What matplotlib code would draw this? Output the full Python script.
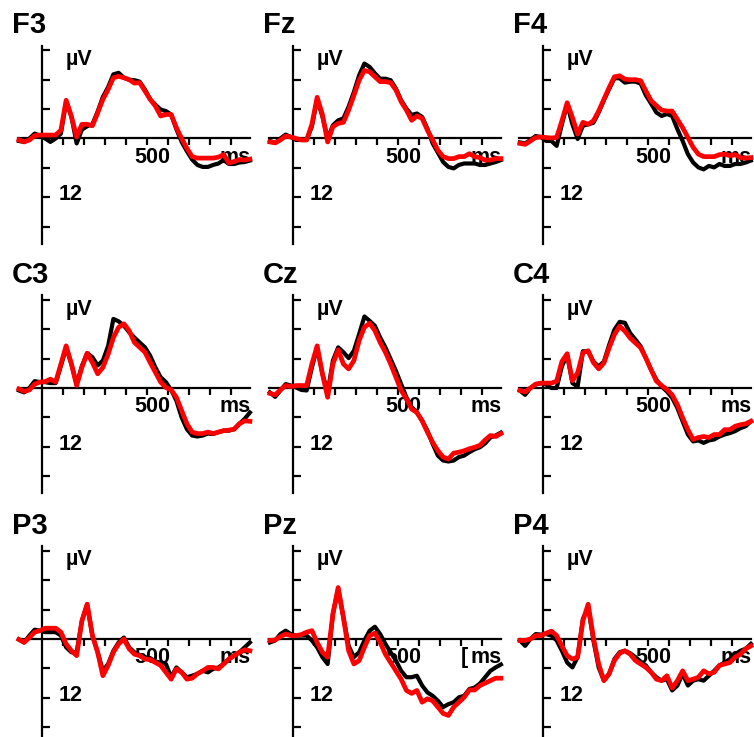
import matplotlib
matplotlib.use("Agg")
import matplotlib.pyplot as plt

plt.rcParams['font.family'] = ['Liberation Sans', 'DejaVu Sans']
plt.rcParams['font.weight'] = 'bold'

# time axis (ms) and grand-average waveforms (uV, negative plotted up)
t_ms = [-110, -85, -60, -35, -10, 15, 40, 65, 90, 115, 140, 165, 190, 215, 240,
        265, 290, 315, 340, 365, 390, 415, 440, 465, 490, 515, 540, 565, 590, 615,
        640, 665, 690, 715, 740, 765, 790, 815, 840, 865, 890, 915, 940, 965, 990]

channels = ['F3', 'Fz', 'F4', 'C3', 'Cz', 'C4', 'P3', 'Pz', 'P4']

f3_black = [0.5, 0.7, 0.0, -1.0, -0.6, 0.0, 0.7, 0.0, -1.0, -7.5, -4.5, 1.0, -1.8, -2.5, -2.9,
            -5.5, -8.5, -10.5, -13.1, -13.4, -12.4, -12.0, -11.9, -11.6, -10.0, -8.0, -6.9, -5.9, -5.6, -4.9,
            -1.9, 0.7, 2.6, 4.3, 5.4, 5.8, 5.8, 5.4, 5.1, 4.4, 5.2, 5.2, 4.9, 4.8, 4.5]
f3_red = [0.3, 0.7, 0.3, -0.6, -0.7, -0.7, -0.7, -0.7, -1.7, -7.8, -4.5, -0.3, -2.9, -2.9, -2.6,
          -5.2, -8.0, -10.0, -12.4, -12.7, -12.4, -12.0, -11.3, -11.4, -9.7, -8.0, -6.6, -4.6, -4.9, -4.9,
          -2.2, 0.0, 2.0, 3.7, 4.0, 4.0, 4.0, 4.0, 3.8, 3.3, 5.0, 4.7, 4.3, 4.4, 4.2]

fz_black = [0.5, 0.9, 0.0, -0.8, -0.3, 0.3, 0.3, 0.3, -2.5, -8.0, -4.5, 0.0, -2.7, -3.7, -4.1,
            -6.5, -9.5, -12.9, -15.3, -14.6, -13.3, -12.2, -12.2, -11.9, -10.2, -7.8, -6.1, -4.8, -5.1, -4.4,
            -2.0, 1.0, 2.9, 4.8, 5.8, 6.1, 5.4, 5.1, 5.1, 5.1, 5.4, 5.4, 5.1, 4.8, 4.4]
fz_red = [0.7, 0.9, 0.3, -0.5, -0.3, 0.0, 0.3, 0.3, -2.9, -8.4, -4.9, 0.7, -2.4, -3.1, -3.3,
          -5.8, -8.8, -11.9, -13.9, -13.6, -12.6, -11.6, -11.6, -11.4, -9.9, -7.5, -5.8, -3.7, -4.6, -4.1,
          -1.7, 0.3, 2.4, 3.7, 4.1, 4.1, 3.7, 3.7, 3.1, 3.7, 3.9, 4.4, 4.4, 4.1, 4.1]

f4_black = [0.8, 1.0, 0.3, -0.5, -0.3, 0.5, 0.5, 1.5, -2.9, -7.0, -2.9, 0.1, -2.6, -2.9, -3.2,
            -5.3, -7.8, -10.1, -12.3, -12.3, -11.4, -11.6, -11.6, -11.2, -8.8, -7.1, -5.3, -4.6, -5.0, -4.6,
            -1.9, 0.5, 3.2, 4.9, 5.9, 6.3, 5.6, 5.9, 5.2, 5.6, 5.6, 5.2, 5.2, 4.9, 4.5]
f4_red = [1.0, 1.2, 0.5, -0.2, -0.3, -0.2, -0.1, -0.2, -3.6, -7.3, -4.3, -0.9, -3.3, -2.9, -3.6,
          -5.6, -8.0, -10.4, -12.6, -12.8, -12.1, -12.0, -12.0, -11.8, -9.7, -7.7, -6.7, -5.8, -5.6, -5.6,
          -3.9, -2.2, -0.2, 1.8, 3.2, 3.7, 3.7, 3.7, 3.3, 3.2, 3.5, 3.3, 3.9, 4.0, 3.9]

c3_black = [0.5, 0.9, 0.0, -1.4, -1.2, -1.2, -1.0, -1.0, -4.5, -8.2, -4.9, -0.8, -4.5, -7.1, -6.3,
            -4.6, -5.6, -8.6, -14.1, -13.6, -12.7, -11.4, -10.3, -9.3, -8.3, -6.6, -4.2, -2.2, -1.2, 0.4,
            2.6, 6.0, 8.4, 9.7, 9.9, 9.7, 9.3, 9.4, 9.0, 8.7, 8.7, 8.4, 7.3, 6.3, 5.0]
c3_red = [0.2, 0.7, 0.4, -0.8, -1.2, -1.3, -1.8, -1.2, -4.9, -8.6, -4.9, -0.5, -4.2, -7.1, -5.2,
          -2.9, -4.2, -6.9, -10.3, -12.4, -13.1, -11.7, -9.3, -8.3, -7.3, -5.2, -3.2, -1.2, -0.1, 0.4,
          1.9, 4.6, 7.3, 9.0, 9.3, 9.3, 9.0, 9.3, 9.0, 8.7, 8.6, 8.4, 7.3, 6.7, 6.8]

cz_black = [0.9, 1.8, 0.5, -0.8, -0.5, -0.1, 0.4, 0.5, -4.2, -8.2, -2.9, 0.9, -5.6, -8.3, -7.3,
            -6.1, -7.6, -11.0, -14.6, -13.7, -12.7, -10.3, -8.3, -5.9, -3.5, -0.8, 1.9, 3.9, 5.0, 6.7,
            8.7, 11.4, 13.8, 14.8, 15.0, 14.8, 14.1, 13.8, 13.1, 12.5, 12.1, 11.3, 10.1, 9.7, 9.1]
cz_red = [1.1, 1.4, 0.4, -0.5, -0.3, -0.5, -0.5, -0.5, -4.9, -8.6, -2.9, 1.9, -4.9, -7.8, -4.9,
          -3.9, -5.6, -9.7, -12.4, -13.2, -11.7, -9.3, -7.3, -4.9, -2.2, 0.5, 2.2, 4.3, 5.0, 6.7,
          9.0, 11.1, 12.8, 14.1, 14.5, 13.3, 13.1, 12.8, 12.4, 12.1, 11.7, 10.6, 9.7, 9.9, 9.3]

c4_black = [0.5, 1.4, 0.0, -0.7, -1.0, -0.7, 0.0, 0.0, -4.4, -6.8, -1.0, -0.3, -7.5, -7.5, -5.4,
            -4.4, -5.4, -8.8, -11.9, -13.5, -13.3, -11.2, -9.9, -8.5, -6.1, -3.7, -1.7, -0.3, 0.7, 2.0,
            4.1, 6.8, 9.5, 10.9, 10.7, 11.2, 10.7, 10.5, 9.9, 9.5, 9.2, 8.8, 8.2, 7.8, 6.8]
c4_red = [0.5, 0.8, 0.0, -0.8, -1.0, -1.0, -1.0, -1.4, -5.4, -7.0, -1.5, -3.1, -7.2, -7.6, -5.2,
          -3.9, -5.1, -8.2, -10.9, -12.6, -11.6, -10.2, -9.2, -8.2, -6.1, -3.7, -1.4, -0.5, 0.3, 1.4,
          3.4, 6.1, 8.5, 10.5, 10.1, 9.9, 10.1, 9.5, 9.5, 8.5, 8.5, 7.8, 7.5, 7.3, 6.8]

p3_black = [0.1, 0.7, -0.7, -1.9, -1.7, -1.4, -1.4, -1.4, -0.7, 1.7, 2.7, 2.7, -3.7, -7.1, -0.7,
            2.7, 6.5, 5.1, 2.4, 0.7, -0.3, 1.7, 2.7, 3.3, 3.7, 3.9, 4.6, 4.8, 5.1, 7.8,
            5.8, 6.8, 7.8, 7.5, 7.1, 6.5, 6.8, 6.1, 5.8, 5.1, 4.1, 3.4, 2.7, 1.7, 0.7]
p3_red = [0.1, 0.7, -0.3, -1.4, -1.7, -2.2, -2.2, -2.2, -1.4, 1.0, 2.4, 3.4, -3.7, -7.1, -0.7,
          2.7, 7.5, 5.4, 2.7, 1.0, 0.0, 2.0, 3.1, 3.4, 4.1, 4.2, 4.8, 5.4, 6.8, 8.2,
          6.1, 6.8, 8.2, 8.0, 7.1, 6.5, 5.8, 5.8, 6.1, 5.1, 4.1, 3.4, 2.7, 2.2, 2.4]

pz_black = [0.7, 0.3, -1.0, -1.7, -1.0, -0.7, -0.7, -0.7, 0.3, 1.7, 3.7, 5.1, -5.1, -10.2, -4.4,
            1.4, 3.7, 2.7, 0.3, -1.7, -2.5, -1.0, 1.0, 2.7, 4.4, 6.5, 7.8, 7.8, 7.5, 9.5,
            10.9, 11.6, 12.6, 13.9, 13.3, 12.9, 11.9, 11.6, 10.2, 9.9, 9.1, 7.8, 6.5, 5.8, 5.2]
pz_red = [0.3, 0.2, -0.5, -1.0, -0.7, -0.7, -0.9, -1.4, -1.7, 0.7, 2.7, 3.7, -5.1, -10.5, -4.4,
          2.4, 5.1, 4.4, 1.7, -0.7, -1.2, 0.7, 3.1, 4.8, 6.5, 8.2, 10.5, 11.1, 10.5, 12.9,
          12.2, 12.6, 13.9, 15.2, 15.6, 13.9, 12.9, 11.9, 10.4, 10.4, 9.5, 9.0, 8.5, 8.0, 8.0]

p4_black = [0.3, 1.4, 0.0, -1.0, -0.9, -1.0, -0.7, 0.3, 2.4, 4.8, 5.8, 3.7, -4.1, -6.5, 0.3,
            5.8, 8.5, 7.1, 4.1, 2.7, 2.4, 2.9, 3.7, 4.6, 5.4, 6.8, 7.8, 8.5, 8.2, 10.5,
            9.5, 7.1, 9.5, 8.5, 8.2, 8.5, 7.5, 6.5, 5.4, 4.8, 4.1, 3.1, 2.4, 2.0, 1.0]
p4_red = [0.3, 0.3, 0.0, -0.7, -0.7, -1.2, -1.6, -0.7, 1.4, 3.4, 4.1, 3.7, -3.7, -7.1, -0.3,
          5.1, 8.5, 7.1, 4.4, 2.9, 2.4, 3.1, 4.4, 5.1, 5.8, 6.8, 8.2, 8.5, 7.5, 10.0,
          8.5, 6.5, 8.5, 8.2, 7.8, 6.5, 7.1, 6.8, 5.4, 5.1, 4.8, 3.7, 3.1, 2.0, 1.4]

black = {'F3': f3_black, 'Fz': fz_black, 'F4': f4_black,
         'C3': c3_black, 'Cz': cz_black, 'C4': c4_black,
         'P3': p3_black, 'Pz': pz_black, 'P4': p4_black}
red = {'F3': f3_red, 'Fz': fz_red, 'F4': f4_red,
       'C3': c3_red, 'Cz': cz_red, 'C4': c4_red,
       'P3': p3_red, 'Pz': pz_red, 'P4': p4_red}

x_ticks = [100, 200, 300, 400, 500, 600, 700, 800, 900]
y_ticks = [-18, -12, -6, 6, 12, 18]

# layout in pixels
W, H = 754, 737
col_px = [42, 293, 543]      # x pixel of t = 0
row_px = [138.5, 388, 639]   # y pixel of 0 uV
sx = 0.21                    # px per ms
sy = 4.9                     # px per uV
xlim = (-135, 1010)
ylim = (-20.5, 22)

fig = plt.figure(figsize=(W / 100, H / 100), dpi=100)

for i, ch in enumerate(channels):
    r, c = divmod(i, 3)
    left = col_px[c] + xlim[0] * sx
    width = (xlim[1] - xlim[0]) * sx
    top = row_px[r] + ylim[0] * sy
    height = (ylim[1] - ylim[0]) * sy
    ax = fig.add_axes([left / W, 1 - (top + height) / H, width / W, height / H])
    ax.set_xlim(*xlim)
    ax.set_ylim(ylim[1], ylim[0])   # negative up
    ax.patch.set_visible(False)

    for side in ['top', 'right']:
        ax.spines[side].set_visible(False)
    ax.spines['left'].set_position(('data', 0))
    ax.spines['bottom'].set_position(('data', 0))
    ax.spines['left'].set_bounds(-18.9, 21.5)
    ax.spines['bottom'].set_bounds(-112, 990)
    ax.spines['left'].set_linewidth(1.6)
    ax.spines['bottom'].set_linewidth(1.6)

    ax.set_xticks(x_ticks)
    ax.set_yticks(y_ticks)
    ax.tick_params(axis='x', direction='out', length=5, width=1.6, labelbottom=False)
    ax.tick_params(axis='y', direction='in', length=6, width=1.6, labelleft=False)

    ax.plot(t_ms, black[ch], color='black', lw=3.0, zorder=3, solid_joinstyle='round')
    ax.plot(t_ms, red[ch], color='#ff0000', lw=3.4, zorder=4, solid_joinstyle='round')

    ax.text(-145, -21.5, ch, fontsize=21, fontweight='bold', ha='left', va='baseline')
    ax.text(174, -15.0, 'µV', fontsize=15.5, fontweight='bold', ha='center', va='baseline', zorder=1)
    ax.text(137, 12.6, '12', fontsize=15.5, fontweight='bold', ha='center', va='baseline', zorder=1)
    ax.text(526, 4.9, '500', fontsize=15.5, fontweight='bold', ha='center', va='baseline', zorder=1)
    ax.text(919, 4.9, 'ms', fontsize=15.5, fontweight='bold', ha='center', va='baseline', zorder=1)
    if ch == 'Pz':
        ax.text(818, 4.9, '[', fontsize=15.5, fontweight='bold', ha='center', va='baseline', zorder=1)

fig.savefig('out.png', dpi=100)
